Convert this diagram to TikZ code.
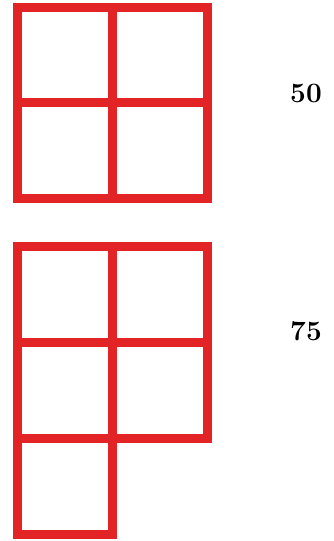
\documentclass[tikz,border=0pt]{standalone}
\usepackage{fontspec}
\usepackage{xcolor}
\definecolor{gridred}{RGB}{226,36,38}
\tikzset{gridline/.style={draw=gridred,line width=9pt,line join=miter,line cap=rect},
  valuelabel/.style={font=\fontsize{28}{32}\selectfont\bfseries,inner sep=0pt}}
\begin{document}
\begin{tikzpicture}[x=1pt,y=-1pt]
\useasboundingbox (0,0) rectangle (333,541);
% top 2x2 grid
\draw[gridline] (17,7.5) rectangle (207,198);
\draw[gridline] (112,7.5) -- (112,198);
\draw[gridline] (17,102) -- (207,102);
% bottom shape
\draw[gridline] (17,246) -- (207,246) -- (207,438) -- (112,438) -- (112,534) -- (17,534) -- cycle;
\draw[gridline] (112,246) -- (112,438);
\draw[gridline] (17,342) -- (207,342);
\draw[gridline] (17,438) -- (112,438);
\node[valuelabel] (a) at (306,93) {50};
\node[valuelabel] (b) at (306,331) {75};
\end{tikzpicture}
\end{document}
